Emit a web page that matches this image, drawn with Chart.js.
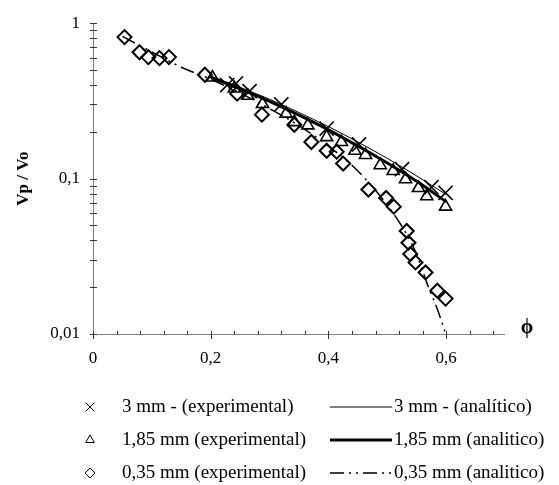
<!DOCTYPE html>
<html>
<head>
<meta charset="utf-8">
<script src="https://cdn.jsdelivr.net/npm/chart.js@4.4.1/dist/chart.umd.min.js"></script>
<style>
  html, body { margin: 0; padding: 0; background: #fff; }
  #wrap { width: 559px; height: 485px; }
</style>
</head>
<body>
<div id="wrap"><canvas id="chart" width="559" height="485"></canvas></div>
<script>
// --- Dados ---
const xTicks = [0, 0.2, 0.4, 0.6];
const yTicks = [0.01, 0.1, 1];

const labels = [
    "3 mm - (experimental)", "1,85 mm (experimental)", "0,35 mm (experimental)",
    "3 mm - (analítico)", "1,85 mm (analitico)", "0,35 mm (analitico)"
];

const x3mmExp = [0.228, 0.243, 0.266, 0.32, 0.397, 0.452, 0.525, 0.575, 0.599];
const y3mmExp = [0.40, 0.41, 0.365, 0.30, 0.21, 0.166, 0.115, 0.088, 0.081];

const x185Exp = [0.203, 0.24, 0.263, 0.288, 0.328, 0.342, 0.365, 0.397, 0.422, 0.445, 0.463, 0.488, 0.51, 0.531, 0.553, 0.567, 0.599];
const y185Exp = [0.447, 0.38, 0.341, 0.302, 0.262, 0.231, 0.22, 0.185, 0.172, 0.151, 0.142, 0.122, 0.112, 0.099, 0.087, 0.077, 0.066];

const x035Exp = [0.0535, 0.079, 0.094, 0.113, 0.129, 0.19, 0.245, 0.287, 0.342, 0.371, 0.397, 0.414, 0.425, 0.468, 0.498, 0.511, 0.533, 0.536, 0.539, 0.548, 0.565, 0.585, 0.599];
const y035Exp = [0.814, 0.65, 0.605, 0.596, 0.605, 0.466, 0.352, 0.258, 0.222, 0.172, 0.151, 0.149, 0.125, 0.085, 0.075, 0.066, 0.046, 0.0387, 0.0327, 0.0289, 0.0249, 0.019, 0.0169];

const x3mmAna = [0.2, 0.25, 0.3, 0.35, 0.4, 0.45, 0.5, 0.55, 0.6];
const y3mmAna = [0.457, 0.386, 0.324, 0.266, 0.216, 0.172, 0.135, 0.104, 0.079];

const x185Ana = [0.2, 0.25, 0.3, 0.35, 0.4, 0.45, 0.5, 0.55, 0.6];
const y185Ana = [0.45, 0.378, 0.314, 0.256, 0.206, 0.162, 0.126, 0.096, 0.071];

const x035Ana = [0.05, 0.1, 0.15, 0.2, 0.25, 0.3, 0.35, 0.4, 0.45, 0.5, 0.53, 0.55, 0.57, 0.585, 0.6];
const y035Ana = [0.822, 0.653, 0.521, 0.436, 0.355, 0.282, 0.219, 0.162, 0.112, 0.0676, 0.0457, 0.0324, 0.02, 0.0145, 0.0098];

const pts = (xs, ys) => xs.map((x, i) => ({ x, y: ys[i] }));
const fmt = v => String(v).replace(".", ",");
const FONT = "'Liberation Serif', 'Times New Roman', serif";

// --- Eixos com marcas cruzadas (estilo Excel) ---
const axesPlugin = {
    id: "axes",
    beforeDatasetsDraw(chart) {
        const { ctx, chartArea: a, scales: { x, y } } = chart;
        ctx.save();
        ctx.strokeStyle = "#808080";
        ctx.lineWidth = 1;
        ctx.beginPath();
        ctx.moveTo(a.left + 0.5, a.top);
        ctx.lineTo(a.left + 0.5, a.bottom + 0.5);
        ctx.lineTo(a.right, a.bottom + 0.5);
        ctx.stroke();

        ctx.strokeStyle = "#333";
        ctx.beginPath();
        // y: decades and minor ticks
        for (let d = 0.01; d < 1.5; d *= 10) {
            for (let k = 1; k <= 9; k++) {
                const v = k * d;
                if (v > 1.0001) break;
                const py = Math.round(y.getPixelForValue(v)) + 0.5;
                ctx.moveTo(a.left - 3, py);
                ctx.lineTo(a.left + 4, py);
            }
        }
        // x: every 0.04
        for (let i = 0; i * 0.04 <= 0.7001; i++) {
            const v = i * 0.04;
            const px = Math.round(x.getPixelForValue(v)) + 0.5;
            const major = i % 5 === 0;
            ctx.moveTo(px, a.bottom - 3);
            ctx.lineTo(px, a.bottom + (major ? 5 : 0.5));
        }
        ctx.stroke();
        ctx.restore();
    },
    afterDraw(chart) {
        const { ctx, chartArea: a } = chart;
        ctx.save();
        ctx.fillStyle = "#000";
        ctx.font = "bold 17px " + FONT;
        ctx.textAlign = "center";
        ctx.textBaseline = "middle";
        ctx.translate(24, (a.top + a.bottom) / 2);
        ctx.rotate(-Math.PI / 2);
        ctx.fillText("Vp / Vo", 0, 0);
        ctx.restore();

        ctx.save();
        ctx.fillStyle = "#000";
        ctx.font = "bold 20px " + FONT;
        ctx.textAlign = "center";
        ctx.textBaseline = "middle";
        ctx.fillText("ϕ", 527, a.bottom - 6);
        ctx.restore();
    }
};

// --- Legenda em duas colunas ---
const legendPlugin = {
    id: "legendRows",
    afterDraw(chart) {
        const { ctx } = chart;
        const ds = chart.data.datasets;
        const rowsY = [407, 440, 473];
        const markerX = 90, text1X = 122, lineX0 = 330, lineX1 = 392, text2X = 394;
        const markerR = [6, 5, 5];
        ctx.save();
        ctx.font = "19px " + FONT;
        ctx.textBaseline = "middle";
        ctx.fillStyle = "#000";
        for (let r = 0; r < 3; r++) {
            const exp = ds[3 + r], ana = ds[r];
            const yy = rowsY[r];
            ctx.save();
            ctx.strokeStyle = "#000";
            ctx.fillStyle = "rgba(0,0,0,0)";
            Chart.helpers.drawPoint(ctx, { pointStyle: exp.pointStyle, radius: markerR[r], borderWidth: 1.5, rotation: 0 }, markerX, yy);
            ctx.restore();
            ctx.fillText(exp.label, text1X, yy);

            ctx.save();
            ctx.strokeStyle = "#000";
            ctx.lineWidth = ana.borderWidth;
            ctx.setLineDash(ana.borderDash || []);
            ctx.beginPath();
            ctx.moveTo(lineX0, yy);
            ctx.lineTo(lineX1, yy);
            ctx.stroke();
            ctx.restore();
            ctx.fillText(ana.label, text2X, yy);
        }
        ctx.restore();
    }
};

const lineBase = { showLine: true, pointRadius: 0, borderColor: "#000", cubicInterpolationMode: "monotone", fill: false };
const markBase = { showLine: false, borderColor: "#000", backgroundColor: "rgba(0,0,0,0)", borderWidth: 1.6 };

new Chart(document.getElementById("chart").getContext("2d"), {
    type: "scatter",
    data: {
        datasets: [
            { ...lineBase, label: labels[3], data: pts(x3mmAna, y3mmAna), borderWidth: 1 },
            { ...lineBase, label: labels[4], data: pts(x185Ana, y185Ana), borderWidth: 3 },
            { ...lineBase, label: labels[5], data: pts(x035Ana, y035Ana), borderWidth: 1.5, borderDash: [14, 5, 2, 5, 2, 5] },
            { ...markBase, label: labels[0], data: pts(x3mmExp, y3mmExp), pointStyle: "crossRot", pointRadius: 10 },
            { ...markBase, label: labels[1], data: pts(x185Exp, y185Exp), pointStyle: "triangle", pointRadius: 7 },
            { ...markBase, label: labels[2], data: pts(x035Exp, y035Exp), pointStyle: "rectRot", pointRadius: 7, borderWidth: 2 }
        ]
    },
    options: {
        responsive: false,
        animation: false,
        layout: { padding: { left: 0, top: 20, right: 54, bottom: 0 } },
        plugins: { legend: { display: false }, tooltip: { enabled: false } },
        scales: {
            x: {
                type: "linear", min: 0, max: 0.7,
                afterFit: s => { s.height = 151; },
                afterBuildTicks: s => { s.ticks = xTicks.map(v => ({ value: v })); },
                grid: { display: false, drawTicks: false },
                border: { display: false },
                ticks: { color: "#000", padding: 14, maxRotation: 0, font: { family: FONT, size: 17 }, callback: v => fmt(v) }
            },
            y: {
                type: "logarithmic", min: 0.01, max: 1,
                afterFit: s => { s.width = 93; },
                afterBuildTicks: s => { s.ticks = yTicks.map(v => ({ value: v })); },
                grid: { display: false, drawTicks: false },
                border: { display: false },
                ticks: { color: "#000", padding: 13, font: { family: FONT, size: 17 }, callback: v => fmt(v) }
            }
        }
    },
    plugins: [axesPlugin, legendPlugin]
});
</script>
</body>
</html>
